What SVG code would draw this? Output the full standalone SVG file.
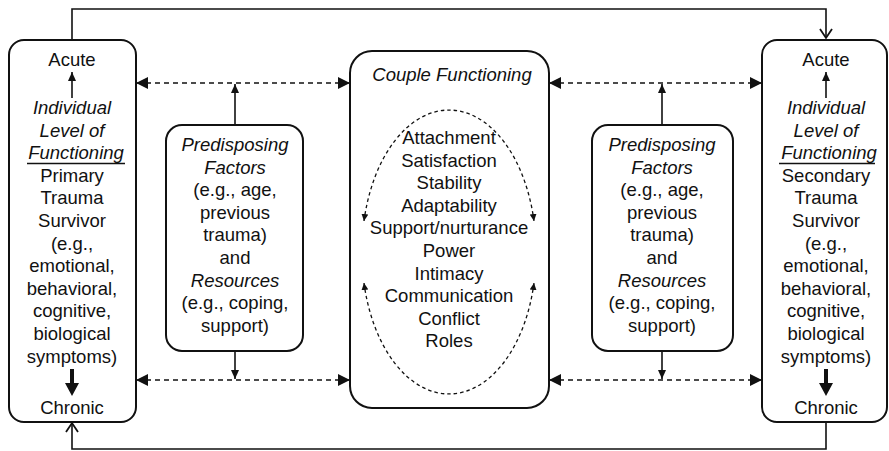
<svg xmlns="http://www.w3.org/2000/svg" width="889" height="451" viewBox="0 0 889 451">
<style>
  .box { fill: #fff; stroke: #111; stroke-width: 2; }
  text { font-family: "Liberation Sans", Arial, Helvetica, sans-serif; font-size: 18.5px; fill: #111; text-anchor: middle; }
  .it { font-style: italic; }
  .solid { fill: none; stroke: #111; stroke-width: 1.6; }
  .dash { fill: none; stroke: #111; stroke-width: 1.5; stroke-dasharray: 5 4; }
  .edash { fill: none; stroke: #111; stroke-width: 1.3; stroke-dasharray: 3.5 3; }
  .ul { stroke: #111; stroke-width: 1.3; }
  .thick { fill: #111; stroke: none; }
</style>
<defs>
  <marker id="tri" markerUnits="userSpaceOnUse" markerWidth="12" markerHeight="12" refX="11" refY="6" orient="auto-start-reverse" viewBox="0 0 12 12">
    <path d="M0,0 L12,6 L0,12 z" fill="#111"/>
  </marker>
  <marker id="small" markerUnits="userSpaceOnUse" markerWidth="9" markerHeight="8" refX="9" refY="4" orient="auto-start-reverse" viewBox="0 0 9 8">
    <path d="M0,0 L9,4 L0,8 z" fill="#111"/>
  </marker>
  <marker id="tiny" markerUnits="userSpaceOnUse" markerWidth="7" markerHeight="7" refX="7" refY="3.5" orient="auto-start-reverse" viewBox="0 0 7 7">
    <path d="M0,0 L7,3.5 L0,7 z" fill="#111"/>
  </marker>
  <marker id="open" markerUnits="userSpaceOnUse" markerWidth="12" markerHeight="14" refX="10" refY="7" orient="auto" viewBox="0 0 12 14">
    <path d="M1,1 L10,7 L1,13" fill="none" stroke="#111" stroke-width="1.8"/>
  </marker>
</defs>

<g id="connectors">
  <path class="solid" d="M72,40 V9 H826 V38" marker-end="url(#open)"/>
  <path class="solid" d="M826,422 V449 H72 V423" marker-end="url(#open)"/>
  <line class="dash" x1="137" y1="83" x2="349" y2="83" marker-start="url(#tri)" marker-end="url(#tri)"/>
  <line class="dash" x1="137" y1="380" x2="349" y2="380" marker-start="url(#tri)" marker-end="url(#tri)"/>
  <line class="dash" x1="550" y1="83" x2="761" y2="83" marker-start="url(#tri)" marker-end="url(#tri)"/>
  <line class="dash" x1="550" y1="380" x2="761" y2="380" marker-start="url(#tri)" marker-end="url(#tri)"/>
  <line class="solid" x1="235" y1="124" x2="235" y2="84" marker-end="url(#small)"/>
  <line class="solid" x1="235" y1="351" x2="235" y2="379" marker-end="url(#small)"/>
  <line class="solid" x1="662" y1="124" x2="662" y2="84" marker-end="url(#small)"/>
  <line class="solid" x1="662" y1="351" x2="662" y2="379" marker-end="url(#small)"/>
</g>

<g id="left-individual">
  <rect class="box" x="9" y="40" width="127" height="382" rx="15"/>
  <text x="72" y="66">Acute</text>
  <line class="solid" x1="72" y1="98" x2="72" y2="72" marker-end="url(#small)"/>
  <text class="it" x="72" y="114">Individual</text>
  <text class="it" x="72" y="136.6">Level of</text>
  <text class="it" x="76" y="159.2">Functioning</text>
  <line class="ul" x1="27" y1="163.5" x2="125" y2="163.5"/>
  <text x="72" y="181.8">Primary</text>
  <text x="72" y="204.4">Trauma</text>
  <text x="72" y="227">Survivor</text>
  <text x="72" y="249.6">(e.g.,</text>
  <text x="72" y="272.2">emotional,</text>
  <text x="72" y="294.8">behavioral,</text>
  <text x="72" y="317.4">cognitive,</text>
  <text x="72" y="340">biological</text>
  <text x="72" y="362.6">symptoms)</text>
  <path class="thick" d="M70,369 H74 V383 H79 L72,396 L65,383 H70 Z"/>
  <text x="72" y="414">Chronic</text>
</g>

<g id="left-predisposing">
  <rect class="box" x="166" y="125" width="137" height="226" rx="16"/>
  <text class="it" x="235" y="151">Predisposing</text>
  <text class="it" x="235" y="173.6">Factors</text>
  <text x="235" y="196.2">(e.g., age,</text>
  <text x="235" y="218.8">previous</text>
  <text x="235" y="241.4">trauma)</text>
  <text x="235" y="264">and</text>
  <text class="it" x="235" y="286.6">Resources</text>
  <text x="235" y="309.2">(e.g., coping,</text>
  <text x="235" y="331.8">support)</text>
</g>

<g id="couple-functioning">
  <rect class="box" x="350" y="51" width="199" height="357" rx="22"/>
  <text class="it" x="452" y="81">Couple Functioning</text>
  <path class="edash" d="M364,221 A87,141 0 0 1 534,221" marker-start="url(#tiny)" marker-end="url(#tiny)"/>
  <path class="edash" d="M364,283 A87,141 0 0 0 534,283" marker-start="url(#tiny)" marker-end="url(#tiny)"/>
  <text x="449" y="144">Attachment</text>
  <text x="449" y="166.6">Satisfaction</text>
  <text x="449" y="189.2">Stability</text>
  <text x="449" y="211.8">Adaptability</text>
  <text x="449" y="234.4">Support/nurturance</text>
  <text x="449" y="257">Power</text>
  <text x="449" y="279.6">Intimacy</text>
  <text x="449" y="302.2">Communication</text>
  <text x="449" y="324.8">Conflict</text>
  <text x="449" y="347.4">Roles</text>
</g>

<g id="right-predisposing">
  <rect class="box" x="592" y="125" width="141" height="226" rx="16"/>
  <text class="it" x="662" y="151">Predisposing</text>
  <text class="it" x="662" y="173.6">Factors</text>
  <text x="662" y="196.2">(e.g., age,</text>
  <text x="662" y="218.8">previous</text>
  <text x="662" y="241.4">trauma)</text>
  <text x="662" y="264">and</text>
  <text class="it" x="662" y="286.6">Resources</text>
  <text x="662" y="309.2">(e.g., coping,</text>
  <text x="662" y="331.8">support)</text>
</g>

<g id="right-individual">
  <rect class="box" x="762" y="40" width="125" height="382" rx="15"/>
  <text x="826" y="66">Acute</text>
  <line class="solid" x1="826" y1="98" x2="826" y2="72" marker-end="url(#small)"/>
  <text class="it" x="826" y="114">Individual</text>
  <text class="it" x="826" y="136.6">Level of</text>
  <text class="it" x="829" y="159.2">Functioning</text>
  <line class="ul" x1="779" y1="163.5" x2="875" y2="163.5"/>
  <text x="826" y="181.8">Secondary</text>
  <text x="826" y="204.4">Trauma</text>
  <text x="826" y="227">Survivor</text>
  <text x="826" y="249.6">(e.g.,</text>
  <text x="826" y="272.2">emotional,</text>
  <text x="826" y="294.8">behavioral,</text>
  <text x="826" y="317.4">cognitive,</text>
  <text x="826" y="340">biological</text>
  <text x="826" y="362.6">symptoms)</text>
  <path class="thick" d="M824,369 H828 V383 H833 L826,396 L819,383 H824 Z"/>
  <text x="826" y="414">Chronic</text>
</g>
</svg>
